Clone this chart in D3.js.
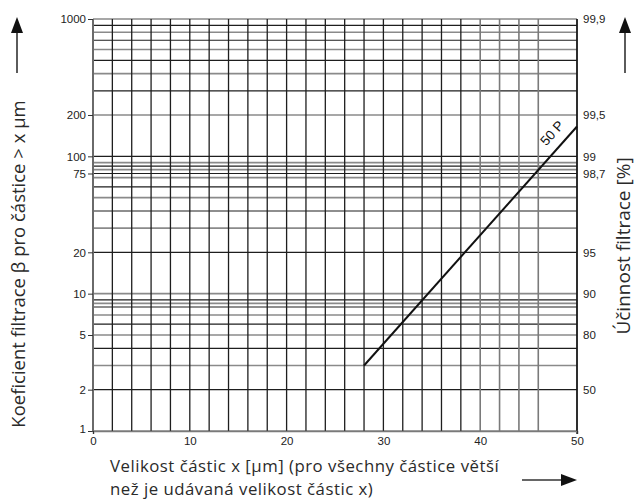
<!DOCTYPE html>
<html lang="en">
<head>
    <meta charset="UTF-8">
    <title>Koeficient filtrace</title>
    <script src="https://cdn.jsdelivr.net/npm/d3@7"></script>
    <style>
        body { margin: 0; background: #fff; }
    </style>
</head>
<body>
    <svg id="chart" width="636" height="499"></svg>
</body>
<script>
    let svg = d3.select("#chart")

    // grid and axis values
    let xGrid = [0, 2, 4, 6, 8, 10, 12, 14, 16, 18, 20, 22, 24, 26, 28, 30, 32, 34, 36, 38, 40, 42, 44, 46, 50]
    let xLabels = [0, 10, 20, 30, 40, 50]
    let yGrid = [1, 2, 3, 4, 5, 6, 7, 8, 8.5, 9, 10, 20, 30, 40, 50, 60, 70, 75, 80, 85, 90, 100,
                 200, 300, 400, 500, 600, 700, 800, 900, 1000]
    let yLabels = [1, 2, 5, 10, 20, 75, 100, 200, 1000]
    let effValues = [2, 5, 10, 20, 75, 100, 200, 1000]
    let effLabels = ["50", "80", "90", "95", "98,7", "99", "99,5", "99,9"]
    // line "50 P": particle size vs beta
    let lineX = [28, 50]
    let lineBeta = [3, 165]

    let x = d3.scaleLinear().domain([0, 50]).range([93, 577])
    let y = d3.scaleLog().domain([1, 1000]).range([431, 19])

    // horizontal grid
    svg.append("g").selectAll("line")
        .data(yGrid)
        .enter()
        .append("line")
        .attr("x1", x(0))
        .attr("x2", x(50))
        .attr("y1", d => y(d))
        .attr("y2", d => y(d))
        .attr("stroke", (d, i) => i % 2 == 0 ? "#8a8a8a" : "#1e1e1e")
        .attr("stroke-width", (d, i) => i % 2 == 0 ? 1.6 : 1.2)

    // vertical grid
    svg.append("g").selectAll("line")
        .data(xGrid)
        .enter()
        .append("line")
        .attr("x1", d => x(d))
        .attr("x2", d => x(d))
        .attr("y1", y(1))
        .attr("y2", y(1000))
        .attr("stroke", d => d >= 40 && d < 50 ? "#7a7a7a" : "#1e1e1e")
        .attr("stroke-width", d => d >= 40 && d < 50 ? 1.6 : 1.3)

    // frame lines
    svg.append("line")
        .attr("x1", x(0)).attr("x2", x(0))
        .attr("y1", y(1)).attr("y2", y(1000))
        .attr("stroke", "#6a6a6a").attr("stroke-width", 2)
    svg.append("line")
        .attr("x1", x(50)).attr("x2", x(50))
        .attr("y1", y(1) + 3).attr("y2", y(1000))
        .attr("stroke", "#1a1a1a").attr("stroke-width", 1.5)

    // left axis
    let yaxis = d3.axisLeft(y)
        .tickValues(yLabels)
        .tickFormat(d3.format("d"))
        .tickSize(5)
        .tickPadding(2)
    let gy = svg.append("g")
        .attr("transform", "translate(" + x(0) + ",0)")
        .call(yaxis)
    gy.select(".domain").remove()
    gy.selectAll("line").attr("stroke", "#333")
    gy.selectAll("text")
        .attr("font-family", "Liberation Sans, Arial, sans-serif")
        .attr("font-size", 11.5)
        .attr("fill", "#222")
    gy.selectAll(".tick").filter(d => d == 1).select("text").attr("dy", "0.1em")

    // right axis (efficiency)
    let yaxisR = d3.axisRight(y)
        .tickValues(effValues)
        .tickFormat((d, i) => effLabels[i])
        .tickSize(0)
        .tickPadding(6)
    let gr = svg.append("g")
        .attr("transform", "translate(" + x(50) + ",0)")
        .call(yaxisR)
    gr.select(".domain").remove()
    gr.selectAll("text")
        .attr("font-family", "Liberation Sans, Arial, sans-serif")
        .attr("font-size", 11.5)
        .attr("fill", "#222")

    // bottom axis
    let xaxis = d3.axisBottom(x)
        .tickValues(xLabels)
        .tickSize(3)
        .tickPadding(3)
    let gx = svg.append("g")
        .attr("transform", "translate(0," + y(1) + ")")
        .call(xaxis)
    gx.select(".domain").attr("stroke", "#7a7a7a").attr("stroke-width", 1.6)
    gx.selectAll(".tick line").attr("stroke", d => d == 0 || d == 50 ? "#333" : "none")
    gx.selectAll("text")
        .attr("font-family", "Liberation Sans, Arial, sans-serif")
        .attr("font-size", 11.5)
        .attr("fill", "#222")

    // the 50 P line
    let pts = lineX.map((d, i) => [x(d), y(lineBeta[i])])
    svg.append("path")
        .attr("d", d3.line()(pts))
        .attr("fill", "none")
        .attr("stroke", "#111")
        .attr("stroke-width", 2)

    let ang = Math.atan2(pts[1][1] - pts[0][1], pts[1][0] - pts[0][0]) * 180 / Math.PI
    svg.append("text")
        .attr("transform", "translate(" + x(48.2) + "," + y(132) + ") rotate(" + ang + ")")
        .attr("text-anchor", "middle")
        .attr("dy", "-0.4em")
        .attr("font-family", "Liberation Sans, Arial, sans-serif")
        .attr("font-size", 13.5)
        .attr("fill", "#111")
        .text("50 P")

    // axis titles
    let titleFont = "Open Sans, Noto Sans, sans-serif"
    svg.append("text")
        .attr("transform", "translate(25,264) rotate(-90)")
        .attr("text-anchor", "middle")
        .attr("font-family", titleFont)
        .attr("font-size", 18.5)
        .attr("fill", "#2a2a2a")
        .text("Koeficient filtrace β pro částice > x µm")

    svg.append("text")
        .attr("transform", "translate(630,246) rotate(-90)")
        .attr("text-anchor", "middle")
        .attr("font-family", titleFont)
        .attr("font-size", 19)
        .attr("fill", "#2a2a2a")
        .text("Účinnost filtrace [%]")

    let xt = svg.append("text")
        .attr("font-family", titleFont)
        .attr("font-size", 16.8)
        .attr("letter-spacing", 0.5)
        .attr("fill", "#2a2a2a")
    xt.append("tspan").attr("x", 110).attr("y", 472).text("Velikost částic x [µm] (pro všechny částice větší")
    xt.append("tspan").attr("x", 110).attr("y", 495).text("než je udávaná velikost částic x)")

    // arrows
    function arrow(x1, y1, x2, y2) {
        let a = Math.atan2(y2 - y1, x2 - x1)
        let len = 16, w = 6
        let bx = x2 - len * Math.cos(a), by = y2 - len * Math.sin(a)
        svg.append("line")
            .attr("x1", x1).attr("y1", y1).attr("x2", bx).attr("y2", by)
            .attr("stroke", "#333").attr("stroke-width", 1.6)
        svg.append("path")
            .attr("d", d3.line()([
                [x2, y2],
                [bx + w * Math.sin(a), by - w * Math.cos(a)],
                [bx - w * Math.sin(a), by + w * Math.cos(a)]
            ]) + "Z")
            .attr("fill", "#111")
    }
    arrow(17, 73, 17, 17)
    arrow(625, 73, 625, 17)
    arrow(522, 480, 577, 480)
</script>
</html>
